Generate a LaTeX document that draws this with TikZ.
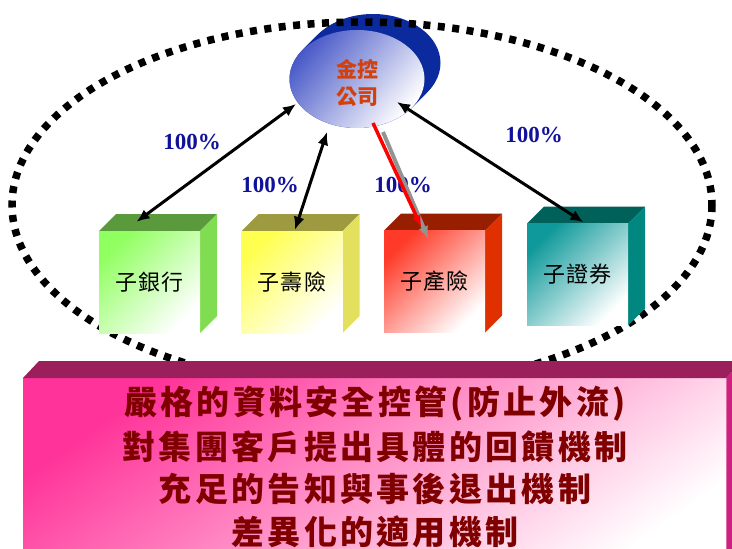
\documentclass[tikz,border=0pt]{standalone}
\usepackage{fontspec}
\setmainfont{Liberation Serif}
\newfontfamily\cjk{Noto Sans CJK TC}
\newfontfamily\cjkbox[LetterSpace=5]{Noto Sans CJK TC}
\newfontfamily\cjkban[LetterSpace=10]{Noto Sans CJK TC}
\usetikzlibrary{arrows.meta,shapes.geometric,calc}
\definecolor{hqdark}{HTML}{0A2A9E}
\definecolor{hqblue}{HTML}{4A5AC8}
\definecolor{hqtext}{HTML}{D2400E}
\definecolor{pctblue}{HTML}{10109A}
\definecolor{b1front}{HTML}{90FF60}
\definecolor{b1top}{HTML}{5A9A3C}
\definecolor{b1side}{HTML}{80DC50}
\definecolor{b2front}{HTML}{FFFF50}
\definecolor{b2top}{HTML}{9E9A40}
\definecolor{b2side}{HTML}{E2E05C}
\definecolor{b3front}{HTML}{FF3A28}
\definecolor{b3top}{HTML}{981E00}
\definecolor{b3side}{HTML}{E03000}
\definecolor{b4front}{HTML}{10999A}
\definecolor{b4top}{HTML}{00615B}
\definecolor{b4side}{HTML}{00877F}
\definecolor{banpink}{HTML}{FF3399}
\definecolor{bantop}{HTML}{9B1F5B}
\definecolor{banside}{HTML}{D0207F}
\definecolor{bantext}{HTML}{800000}
\begin{document}
\begin{tikzpicture}[x=1pt,y=-1pt,
  dbl/.style={{Latex[length=13pt,width=11pt]}-{Latex[length=13pt,width=11pt]}, line width=3pt, black},
  pct/.style={font=\bfseries\fontsize{23}{25}\selectfont, text=pctblue},
  cubefront/.style={rectangle, minimum width=101pt, minimum height=102pt, inner sep=0pt,
    font=\cjkbox\fontsize{22}{24}\selectfont, text=black,
    top color=#1, bottom color=white, shading angle=45},
  bantext/.style={font=\cjkban\bfseries\fontsize{33}{40}\selectfont, text=bantext},
]
\useasboundingbox (0,0) rectangle (732,549);
\clip (0,0) rectangle (732,549);

% holding company back (extrusion)
\coordinate (hqc) at (357,79);
\foreach \k in {0,...,16}{
  \fill[hqdark] ($(hqc)+(\k,-\k)$) ellipse [x radius=67.5, y radius=49];
}

% dotted boundary
\draw[line width=7.5pt, dash pattern=on 7pt off 7.5pt] (362,205) ellipse [x radius=350, y radius=183];

% holding company front
\node[ellipse, minimum width=135pt, minimum height=98pt, inner sep=0pt,
      top color=hqblue, bottom color=white, shading angle=50] (hq) at (hqc) {};
\node[font=\cjk\bfseries\fontsize{21}{27}\selectfont, text=hqtext, align=center] (hql) at (357,83) {金控\\公司};

% cubes
\foreach \n/\pos/\c in {b1/{(149.5,282)}/b1, b2/{(292,282)}/b2, b3/{(434.5,281.5)}/b3, b4/{(577.5,274.5)}/b4}{
  \fill[\c top] \pos ++(-50.5,-51) -- ++(17,-17) -- ++(101,0) -- ++(-17,17) -- cycle;
  \fill[\c side] \pos ++(50.5,-51) -- ++(17,-17) -- ++(0,102) -- ++(-17,17) -- cycle;
}
\node[cubefront=b1front] (b1) at (149.5,282) {子銀行};
\node[cubefront=b2front] (b2) at (292,282) {子壽險};
\node[cubefront=b3front] (b3) at (434.5,281.5) {子產險};
\node[cubefront=b4front] (b4) at (577.5,274.5) {子證券};

% percentage labels
\node[pct] (p1) at (192,142) {100\%};
\node[pct] (p2) at (270,185) {100\%};
\node[pct] (p3) at (403,185) {100\%};
\node[pct] (p4) at (534,135) {100\%};

% connectors
\draw[dbl] ($(b1.north)+(-13,-9)$) -- ($(hq.center)+(-61,25)$);
\draw[dbl] ($(b2.north)+(3,-1)$) -- ($(hq.center)+(-30,53)$);
\draw[dbl] ($(hq.center)+(40,23)$) -- ($(b4.north)+(6,-1)$);
\draw[-{Latex[length=13pt,width=10pt]}, line width=4pt, gray!85] ($(hq.center)+(26,53)$) -- ($(b3.north)+(-6,9)$);
\draw[-{Latex[length=12pt,width=9pt]}, line width=3.5pt, red] ($(hq.center)+(16,44)$) -- ($(b3.north)+(-13,-3)$);

% banner
\node[rectangle, minimum width=703pt, minimum height=200pt, inner sep=0pt, anchor=north west,
      top color=banpink, bottom color=white, shading angle=35] (ban) at (23,378) {};
\fill[bantop] (ban.north west) -- ++(16,-17) -- ($(ban.north east)+(16,-17)$) -- (ban.north east) -- cycle;
\fill[banside] (ban.north east) -- ++(16,-17) -- ++(0,200) -- (ban.south east) -- cycle;
\node[bantext] (t1) at (375,404) {嚴格的資料安全控管(防止外流)};
\node[bantext] (t2) at (375,447) {對集團客戶提出具體的回饋機制};
\node[bantext] (t3) at (375,489) {充足的告知與事後退出機制};
\node[bantext] (t4) at (375,532) {差異化的適用機制};
\end{tikzpicture}
\end{document}
